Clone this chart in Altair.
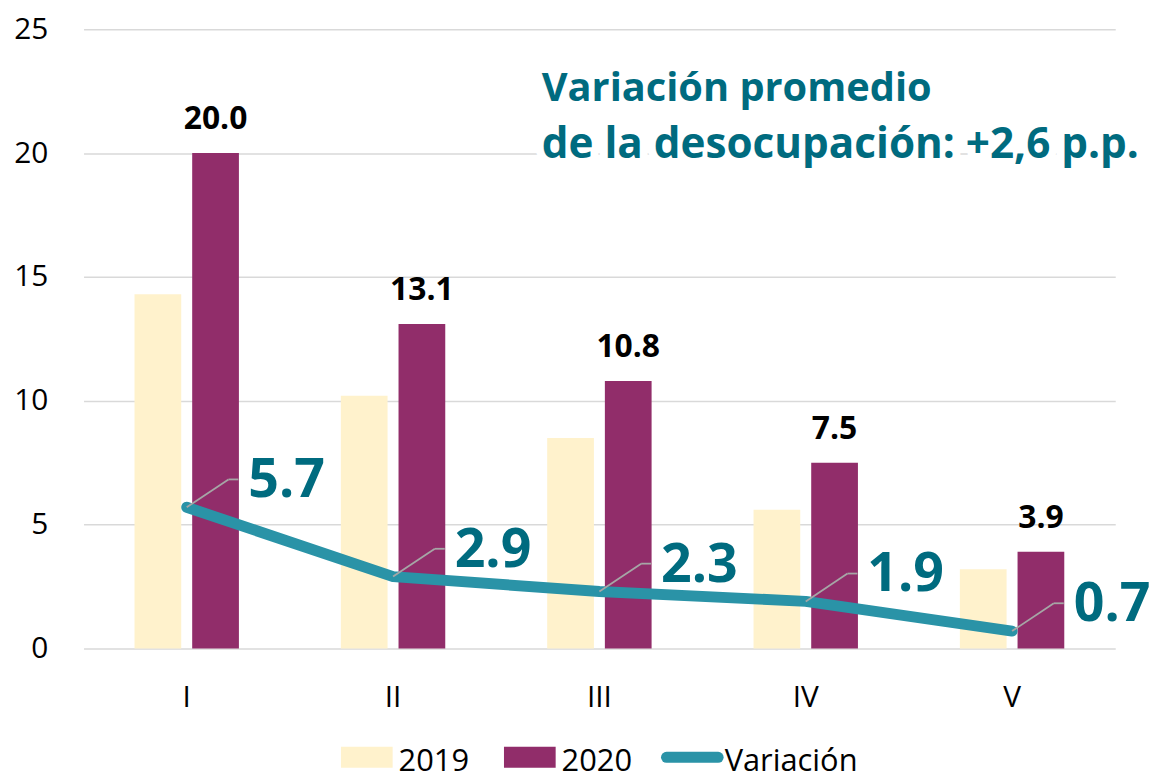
import altair as alt
import pandas as pd

# ---------------- data ----------------
categories = ["I", "II", "III", "IV", "V"]
values_2019 = [14.3, 10.2, 8.5, 5.6, 3.2]
values_2020 = [20.0, 13.1, 10.8, 7.5, 3.9]
variation = [5.7, 2.9, 2.3, 1.9, 0.7]
series_names = ["2019", "2020", "Variación"]
series_colors = ["#FFF2CC", "#912D6A", "#2A93A7"]
y_ticks = [0, 5, 10, 15, 20, 25]
note_line_1 = "Variación promedio"
note_line_2 = "de la desocupación: +2,6 p.p."

bars_df = pd.DataFrame({
    "cat": categories * 2,
    "series": [series_names[0]] * len(categories) + [series_names[1]] * len(categories),
    "value": values_2019 + values_2020,
})
var_df = pd.DataFrame({"cat": categories, "series": series_names[2], "value": variation})
legend_df = pd.DataFrame({"series": series_names})
note_df = pd.DataFrame({"note": [0]})

FONT = "Open Sans"
TEAL_TEXT = "#006B7F"

# ---------------- encodings ----------------
x_main = alt.X(
    "cat:N", sort=categories,
    scale=alt.Scale(domain=categories, paddingInner=0.494, paddingOuter=0.247),
    axis=alt.Axis(title=None, labelAngle=0, domain=False, ticks=False, grid=False,
                  labelFontSize=30, labelFont=FONT, labelColor="#000000", labelPadding=34),
)
x_plain = alt.X("cat:N", sort=categories)
y_main = alt.Y(
    "value:Q",
    scale=alt.Scale(domain=[0, 25], nice=False, zero=True),
    axis=alt.Axis(title=None, values=y_ticks, grid=True, gridColor="#D9D9D9", gridWidth=1.5,
                  domain=False, ticks=False, labelFontSize=30, labelFont=FONT,
                  labelColor="#000000", labelPadding=36),
)
y_plain = alt.Y("value:Q")
color_enc = alt.Color("series:N", scale=alt.Scale(domain=series_names, range=series_colors), legend=None)
x_off = alt.XOffset("series:N", scale=alt.Scale(domain=series_names[:2], paddingInner=0.19, paddingOuter=0))

# ---------------- main layers ----------------
bars = alt.Chart(bars_df).mark_bar().encode(x=x_main, xOffset=x_off, y=y_main, color=color_enc)

labels_2020 = alt.Chart(bars_df).transform_filter(
    alt.datum.series == series_names[1]
).mark_text(baseline="alphabetic", dy=-24, fontSize=32, font=FONT, fontWeight="bold",
            color="#000000").encode(
    x=x_plain, xOffset=x_off, y=y_plain, text=alt.Text("value:Q", format=".1f")
)

line = alt.Chart(var_df).mark_line(strokeWidth=11, strokeCap="round", strokeJoin="round").encode(
    x=x_plain, y=y_plain, color=color_enc
)

leader_diag = alt.Chart(var_df).mark_rule(
    color="#A6A6A6", strokeWidth=1.8, x2Offset=42, y2Offset=-28
).encode(x=x_plain, x2=alt.X2("cat"), y=y_plain, y2=alt.Y2("value"))

leader_flat = alt.Chart(var_df).mark_rule(
    color="#A6A6A6", strokeWidth=1.8, xOffset=42, x2Offset=52, yOffset=-28, y2Offset=-28
).encode(x=x_plain, x2=alt.X2("cat"), y=y_plain, y2=alt.Y2("value"))

var_labels = alt.Chart(var_df).mark_text(
    align="left", baseline="middle", dx=62, dy=-26, fontSize=54, font=FONT,
    fontWeight="bold", color=TEAL_TEXT
).encode(x=x_plain, y=y_plain, text=alt.Text("value:Q", format=".1f"))


def note_text(txt, size, ypos, halo):
    props = dict(align="left", baseline="alphabetic", fontSize=size, font=FONT, fontWeight="bold")
    if halo:
        props.update(color="white", stroke="white", strokeWidth=16, strokeJoin="round")
    else:
        props.update(color=TEAL_TEXT)
    return alt.Chart(note_df).mark_text(**props).encode(
        x=alt.value(461), y=alt.value(ypos), text=alt.value(txt)
    )


notes = [
    note_text(note_line_1, 40, 72, True),
    note_text(note_line_2, 42.5, 130, True),
    note_text(note_line_1, 40, 72, False),
    note_text(note_line_2, 42.5, 130, False),
]

inner = alt.layer(bars, labels_2020, line, leader_diag, leader_flat, var_labels, *notes)

# ---------------- legend (drawn as marks) ----------------
leg_x = alt.X("series:N", sort=series_names,
              scale=alt.Scale(type="point", domain=series_names, range=[317, 645], padding=0),
              axis=None)
leg_y = alt.value(737)

swatches = alt.Chart(legend_df).transform_filter(
    alt.FieldOneOfPredicate(field="series", oneOf=series_names[:2])
).mark_point(shape="M-5.8,-1.5H-0.6V0.6H-5.8Z", filled=True, size=400, opacity=1).encode(
    x=leg_x, y=leg_y, color=color_enc
)
line_symbol = alt.Chart(legend_df).transform_filter(
    alt.datum.series == series_names[2]
).mark_point(shape="M-5.85,-0.45H-0.65", filled=False, size=400, strokeWidth=11,
             strokeCap="round", opacity=1).encode(x=leg_x, y=leg_y, color=color_enc)
legend_text = alt.Chart(legend_df).mark_text(
    align="left", baseline="middle", fontSize=31, font=FONT, color="#000000"
).encode(x=leg_x, y=leg_y, text="series:N")

legend_layer = alt.layer(swatches, line_symbol, legend_text)

chart = alt.layer(inner, legend_layer).resolve_scale(x="independent").properties(
    width=1038, height=623,
    padding={"left": 76, "top": 19, "right": 40, "bottom": 130},
    autosize="none",
).configure_view(stroke=None)

chart.save("out.html", embed_options={"renderer": "svg", "actions": False})
